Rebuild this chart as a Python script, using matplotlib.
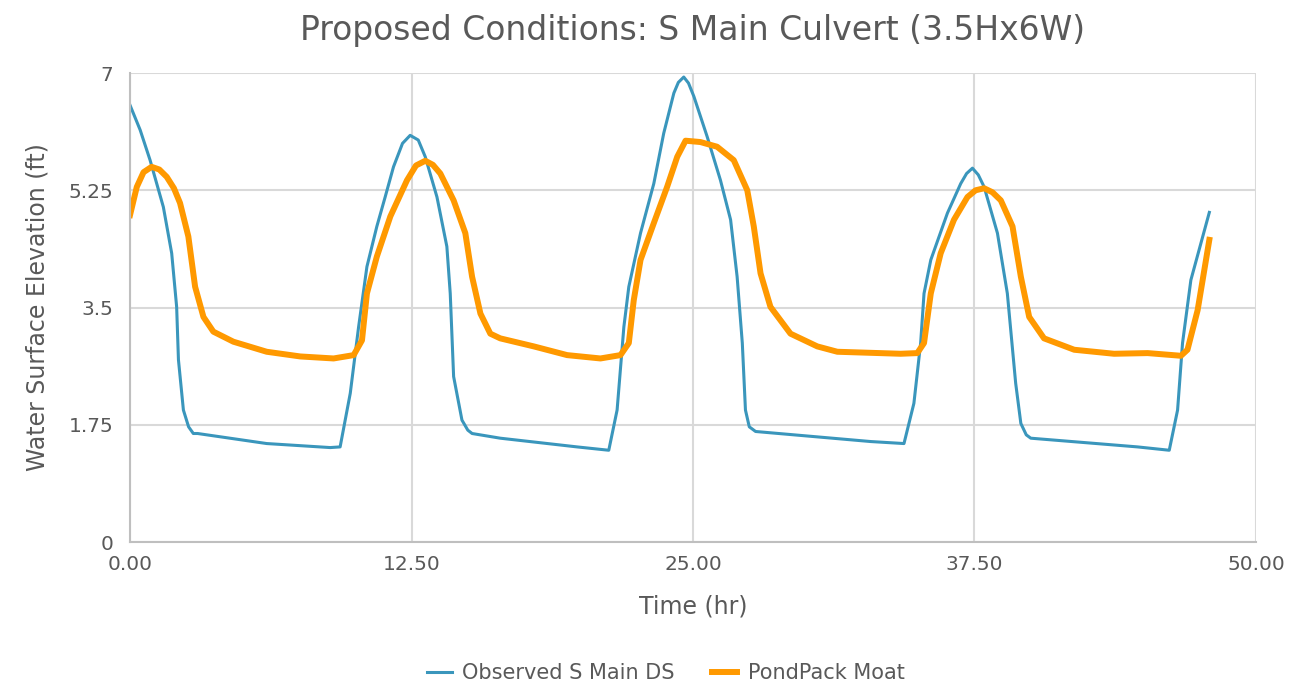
import matplotlib.pyplot as plt

# observed water surface, S Main DS (hr, ft)
obs_t = [0.0, 0.45, 0.89, 1.48, 1.85, 2.07, 2.15, 2.37, 2.6, 2.81, 3.0, 6.07, 8.89, 9.33,
         9.78, 10.15, 10.52, 10.96, 11.33, 11.7, 12.1, 12.44, 12.8, 13.11, 13.63, 14.07,
         14.22, 14.37, 14.74, 15.0, 15.19, 16.44, 19.85, 21.26, 21.63, 21.93, 22.15,
         22.67, 23.26, 23.7, 24.15, 24.35, 24.59, 24.8, 25.04, 25.63, 26.22, 26.67, 26.96,
         27.19, 27.33, 27.5, 27.78, 32.89, 34.37, 34.81, 35.11, 35.26, 35.56, 36.3,
         36.89, 37.15, 37.41, 37.67, 37.93, 38.52, 38.96, 39.33, 39.56, 39.8, 40.0, 44.74, 46.15,
         46.52, 46.74, 47.11, 47.93]
obs_v = [6.52, 6.15, 5.70, 5.00, 4.31, 3.51, 2.72, 1.97, 1.72, 1.62, 1.62, 1.47, 1.41, 1.42,
         2.22, 3.21, 4.11, 4.71, 5.15, 5.60, 5.95, 6.07, 6.00, 5.75, 5.15, 4.41,
         3.71, 2.47, 1.82, 1.67, 1.62, 1.55, 1.42, 1.37, 1.97, 3.21, 3.81,
         4.61, 5.35, 6.10, 6.70, 6.86, 6.94, 6.85, 6.65, 6.05, 5.40, 4.81, 3.96,
         2.97, 1.97, 1.72, 1.65, 1.50, 1.47, 2.07, 2.97, 3.71, 4.21, 4.91,
         5.35, 5.50, 5.58, 5.48, 5.30, 4.61, 3.71, 2.37, 1.77, 1.60, 1.55, 1.42, 1.37,
         1.97, 2.97, 3.91, 4.92]

# PondPack moat (hr, ft)
pp_t = [0.0, 0.3, 0.6, 0.96, 1.3, 1.63, 1.95, 2.22, 2.59, 2.89, 3.26, 3.7, 4.59, 6.07, 7.56,
        9.04, 9.93, 10.3, 10.52, 10.96, 11.56, 12.3, 12.7, 13.11, 13.45, 13.78, 14.37, 14.89,
        15.19, 15.56, 16.0, 16.44, 17.93, 19.41, 20.89, 21.78, 22.15, 22.37,
        22.67, 23.26, 23.85, 24.3, 24.67, 25.33, 26.07, 26.81, 27.41, 27.7,
        28.0, 28.44, 29.33, 30.52, 31.41, 34.22, 34.96, 35.26, 35.56, 36.0,
        36.59, 37.19, 37.55, 37.93, 38.3, 38.67, 39.19, 39.56, 39.93, 40.59, 41.93, 43.7,
        45.19, 46.67, 46.96, 47.41, 47.93]
pp_v = [4.88, 5.30, 5.52, 5.60, 5.56, 5.45, 5.28, 5.06, 4.56, 3.81, 3.36, 3.14, 2.99, 2.84, 2.77,
        2.74, 2.79, 3.01, 3.71, 4.26, 4.86, 5.40, 5.62, 5.69, 5.63, 5.50, 5.10, 4.61,
        3.96, 3.41, 3.11, 3.04, 2.92, 2.79, 2.74, 2.79, 2.97, 3.61,
        4.21, 4.76, 5.30, 5.75, 5.99, 5.97, 5.90, 5.70, 5.25, 4.71,
        4.01, 3.51, 3.11, 2.92, 2.84, 2.81, 2.82, 2.97, 3.71, 4.31,
        4.81, 5.15, 5.25, 5.28, 5.22, 5.10, 4.71, 3.96, 3.36, 3.04, 2.87, 2.81,
        2.82, 2.78, 2.87, 3.46, 4.51]

x_ticks = [0, 12.5, 25, 37.5, 50]
x_labels = ['0.00', '12.50', '25.00', '37.50', '50.00']
y_ticks = [0, 1.75, 3.5, 5.25, 7]
y_labels = ['0', '1.75', '3.5', '5.25', '7']

txt = '#595959'
fig = plt.figure(figsize=(12.9, 6.87), dpi=100)
ax = fig.add_axes([0.1008, 0.211, 0.8728, 0.6827])

ax.plot(obs_t, obs_v, color='#3A96BC', lw=2.2, label='Observed S Main DS', solid_joinstyle='round')
ax.plot(pp_t, pp_v, color='#FF9900', lw=4.3, label='PondPack Moat', solid_joinstyle='round')

ax.set_xlim(0, 50)
ax.set_ylim(0, 7)
ax.set_xticks(x_ticks)
ax.set_xticklabels(x_labels)
ax.set_yticks(y_ticks)
ax.set_yticklabels(y_labels)
ax.grid(True, color='#d9d9d9', lw=1.5)
ax.set_axisbelow(True)
ax.tick_params(length=0, labelsize=14.5, labelcolor=txt)
ax.tick_params(axis='x', pad=9)
ax.tick_params(axis='y', pad=12)
for s in ['top', 'right']:
    ax.spines[s].set_visible(False)
for s in ['left', 'bottom']:
    ax.spines[s].set_color('#bfbfbf')
    ax.spines[s].set_linewidth(1.5)

ax.set_xlabel('Time (hr)', fontsize=17, color=txt, labelpad=15)
ax.set_ylabel('Water Surface Elevation (ft)', fontsize=17, color=txt, labelpad=14)
ax.set_title('Proposed Conditions: S Main Culvert (3.5Hx6W)', fontsize=23.8, color=txt, pad=24)

fig.legend(loc='lower center', bbox_to_anchor=(0.516, -0.022), ncol=2, frameon=False,
           fontsize=15, labelcolor=txt, handlelength=1.2, handletextpad=0.5,
           columnspacing=1.8)

fig.savefig('out.png', dpi=100)
